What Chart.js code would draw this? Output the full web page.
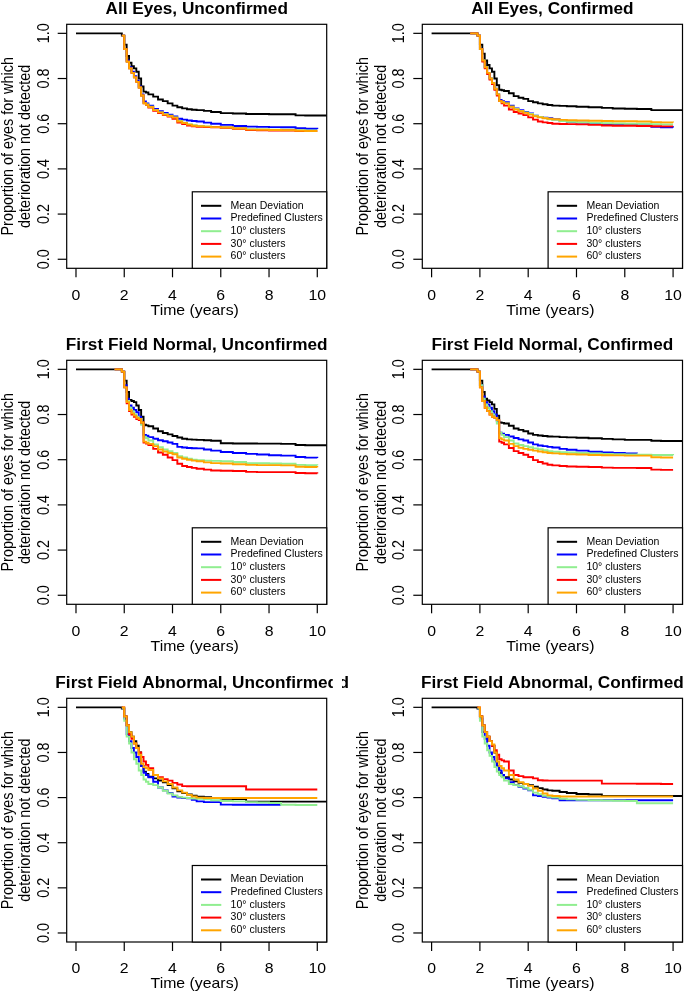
<!DOCTYPE html>
<html>
<head>
<meta charset="utf-8">
<script src="https://cdn.jsdelivr.net/npm/chart.js@4.4.1/dist/chart.umd.min.js"></script>
<style>
  body { margin: 0; background: #fff; }
  #wrap { position: relative; width: 685px; height: 994px; overflow: hidden; }
  #wrap canvas { position: absolute; }
</style>
</head>
<body>
<div id="wrap"></div>
<script>
// Kaplan-Meier style curves, shared time grid (years)
const TIMES = [0, 1.6, 1.9, 2.0, 2.1, 2.2, 2.3, 2.4, 2.5, 2.6, 2.7, 2.8,
  2.9, 3.0, 3.2, 3.4, 3.6, 3.8, 4.0, 4.2, 4.4, 4.6, 4.8, 5.0,
  5.3, 5.6, 6.0, 6.5, 7.05, 7.5, 8.0, 8.5, 9.1, 9.5, 10.0, 10.4];

const X_TICKS = [0, 2, 4, 6, 8, 10];
const Y_TICKS = [0, 0.2, 0.4, 0.6, 0.8, 1.0];

const SERIES_NAMES = ['Mean Deviation', 'Predefined Clusters', '10\u00b0 clusters', '30\u00b0 clusters', '60\u00b0 clusters'];
const SERIES_COLORS = ['#000000', '#0000ff', '#90ee90', '#ff0000', '#ffa500'];

// All Eyes, Unconfirmed
const allUncMD  = [1, 1, 0.99, 0.95, 0.90, 0.87, 0.855, 0.845, 0.83, 0.80, 0.765, 0.742, 0.738, 0.73, 0.72, 0.707, 0.70, 0.69, 0.68, 0.673, 0.668, 0.664, 0.662, 0.66, 0.657, 0.652, 0.647, 0.645, 0.643, 0.643, 0.642, 0.642, 0.637, 0.636, 0.636, 0.636];
const allUncPre = [null, null, 0.99, 0.93, 0.88, 0.85, 0.83, 0.81, 0.79, 0.765, 0.73, 0.698, 0.69, 0.68, 0.665, 0.655, 0.648, 0.64, 0.632, 0.622, 0.618, 0.614, 0.612, 0.61, 0.605, 0.60, 0.595, 0.59, 0.587, 0.586, 0.585, 0.584, 0.58, 0.578, 0.577, null];
const allUnc10  = [null, null, 0.99, 0.93, 0.875, 0.845, 0.825, 0.805, 0.785, 0.76, 0.725, 0.692, 0.685, 0.675, 0.66, 0.65, 0.642, 0.635, 0.628, 0.612, 0.605, 0.598, 0.593, 0.59, 0.588, 0.586, 0.584, 0.58, 0.576, 0.575, 0.574, 0.573, 0.571, 0.57, 0.57, null];
const allUnc30  = [null, null, 0.99, 0.93, 0.875, 0.845, 0.825, 0.805, 0.785, 0.76, 0.725, 0.69, 0.683, 0.672, 0.657, 0.647, 0.638, 0.632, 0.622, 0.605, 0.598, 0.592, 0.588, 0.586, 0.585, 0.584, 0.582, 0.578, 0.572, 0.571, 0.57, 0.57, 0.568, 0.567, 0.567, null];
const allUnc60  = [null, null, 0.99, 0.93, 0.875, 0.845, 0.825, 0.805, 0.785, 0.76, 0.725, 0.69, 0.684, 0.674, 0.66, 0.65, 0.64, 0.634, 0.627, 0.61, 0.603, 0.596, 0.591, 0.589, 0.587, 0.585, 0.583, 0.579, 0.574, 0.573, 0.572, 0.571, 0.569, 0.568, 0.568, null];

// All Eyes, Confirmed
const allConfMD  = [1, 1, 0.99, 0.95, 0.91, 0.88, 0.86, 0.845, 0.83, 0.80, 0.77, 0.75, 0.748, 0.745, 0.735, 0.722, 0.715, 0.71, 0.70, 0.695, 0.69, 0.686, 0.683, 0.68, 0.679, 0.677, 0.675, 0.673, 0.67, 0.667, 0.666, 0.665, 0.66, 0.66, 0.66, 0.66];
const allConfPre = [null, 1, 0.99, 0.93, 0.88, 0.85, 0.825, 0.80, 0.78, 0.755, 0.73, 0.705, 0.70, 0.695, 0.68, 0.668, 0.66, 0.652, 0.645, 0.635, 0.63, 0.627, 0.624, 0.62, 0.613, 0.608, 0.605, 0.60, 0.596, 0.595, 0.595, 0.593, 0.586, 0.584, 0.583, null];
const allConf10  = [null, 1, 0.99, 0.93, 0.88, 0.85, 0.825, 0.80, 0.78, 0.755, 0.73, 0.70, 0.695, 0.69, 0.675, 0.665, 0.656, 0.65, 0.643, 0.635, 0.63, 0.625, 0.62, 0.617, 0.612, 0.608, 0.606, 0.604, 0.602, 0.601, 0.60, 0.60, 0.598, 0.597, 0.597, null];
const allConf30  = [null, 1, 0.99, 0.93, 0.875, 0.845, 0.82, 0.795, 0.775, 0.75, 0.725, 0.70, 0.69, 0.68, 0.663, 0.652, 0.645, 0.638, 0.628, 0.618, 0.61, 0.606, 0.603, 0.60, 0.599, 0.598, 0.597, 0.595, 0.592, 0.591, 0.591, 0.59, 0.589, 0.588, 0.588, null];
const allConf60  = [null, 1, 0.99, 0.93, 0.88, 0.85, 0.825, 0.80, 0.78, 0.755, 0.73, 0.70, 0.695, 0.69, 0.675, 0.663, 0.655, 0.648, 0.64, 0.633, 0.628, 0.624, 0.622, 0.62, 0.617, 0.615, 0.614, 0.613, 0.612, 0.611, 0.611, 0.61, 0.607, 0.606, 0.605, null];

// First Field Normal, Unconfirmed
const normUncMD  = [1, 1, 0.99, 0.95, 0.90, 0.865, 0.86, 0.855, 0.84, 0.82, 0.79, 0.755, 0.752, 0.748, 0.738, 0.726, 0.718, 0.712, 0.705, 0.698, 0.693, 0.69, 0.689, 0.688, 0.686, 0.684, 0.673, 0.672, 0.672, 0.671, 0.671, 0.67, 0.665, 0.664, 0.664, 0.664];
const normUncPre = [null, 1, 0.99, 0.93, 0.87, 0.84, 0.83, 0.82, 0.81, 0.79, 0.76, 0.71, 0.706, 0.70, 0.693, 0.686, 0.682, 0.676, 0.67, 0.657, 0.654, 0.652, 0.651, 0.65, 0.645, 0.64, 0.634, 0.63, 0.626, 0.623, 0.62, 0.618, 0.612, 0.609, 0.608, null];
const normUnc10  = [null, 1, 0.99, 0.92, 0.86, 0.83, 0.815, 0.80, 0.79, 0.78, 0.755, 0.702, 0.695, 0.685, 0.668, 0.655, 0.645, 0.638, 0.63, 0.615, 0.61, 0.605, 0.60, 0.598, 0.596, 0.595, 0.593, 0.59, 0.585, 0.584, 0.583, 0.582, 0.577, 0.576, 0.575, null];
const normUnc30  = [null, 1, 0.99, 0.92, 0.85, 0.815, 0.80, 0.79, 0.78, 0.775, 0.765, 0.676, 0.672, 0.665, 0.648, 0.632, 0.622, 0.61, 0.598, 0.582, 0.572, 0.568, 0.564, 0.56, 0.556, 0.552, 0.551, 0.55, 0.546, 0.545, 0.545, 0.545, 0.541, 0.54, 0.539, null];
const normUnc60  = [null, 1, 0.99, 0.92, 0.855, 0.82, 0.805, 0.795, 0.785, 0.78, 0.765, 0.68, 0.675, 0.67, 0.66, 0.645, 0.636, 0.63, 0.624, 0.61, 0.604, 0.60, 0.596, 0.593, 0.588, 0.585, 0.583, 0.58, 0.577, 0.576, 0.576, 0.575, 0.569, 0.568, 0.567, null];

// First Field Normal, Confirmed
const normConfMD  = [1, 1, 0.99, 0.95, 0.90, 0.87, 0.862, 0.855, 0.845, 0.825, 0.795, 0.765, 0.763, 0.76, 0.75, 0.738, 0.732, 0.726, 0.716, 0.71, 0.707, 0.705, 0.703, 0.702, 0.70, 0.699, 0.697, 0.695, 0.692, 0.69, 0.688, 0.688, 0.684, 0.683, 0.683, 0.683];
const normConfPre = [null, 1, 0.99, 0.93, 0.88, 0.855, 0.845, 0.83, 0.815, 0.80, 0.77, 0.72, 0.715, 0.71, 0.703, 0.696, 0.69, 0.685, 0.676, 0.668, 0.663, 0.66, 0.657, 0.654, 0.648, 0.644, 0.64, 0.635, 0.632, 0.63, 0.628, 0.627, null, null, null, null];
const normConf10  = [null, 1, 0.99, 0.93, 0.87, 0.845, 0.83, 0.815, 0.80, 0.785, 0.76, 0.72, 0.71, 0.70, 0.685, 0.672, 0.665, 0.66, 0.655, 0.65, 0.646, 0.642, 0.638, 0.635, 0.633, 0.632, 0.63, 0.628, 0.625, 0.624, 0.623, 0.622, 0.621, 0.621, 0.62, null];
const normConf30  = [null, 1, 0.99, 0.92, 0.86, 0.83, 0.815, 0.80, 0.79, 0.785, 0.775, 0.68, 0.675, 0.668, 0.652, 0.638, 0.63, 0.622, 0.612, 0.598, 0.59, 0.583, 0.578, 0.575, 0.572, 0.57, 0.569, 0.568, 0.565, 0.564, 0.564, 0.563, 0.556, 0.555, 0.555, null];
const normConf60  = [null, 1, 0.99, 0.92, 0.86, 0.83, 0.815, 0.80, 0.79, 0.785, 0.775, 0.695, 0.69, 0.685, 0.67, 0.66, 0.653, 0.648, 0.644, 0.64, 0.636, 0.633, 0.63, 0.628, 0.626, 0.624, 0.623, 0.621, 0.62, 0.619, 0.618, 0.618, 0.611, 0.61, 0.61, null];

// First Field Abnormal, Unconfirmed
const abnUncMD  = [1, 1, 0.995, 0.96, 0.92, 0.89, 0.87, 0.85, 0.83, 0.80, 0.74, 0.715, 0.705, 0.693, 0.685, 0.676, 0.668, 0.655, 0.641, 0.628, 0.62, 0.614, 0.608, 0.604, 0.602, 0.598, 0.595, 0.594, 0.582, 0.582, 0.582, 0.582, 0.582, 0.582, 0.582, 0.582];
const abnUncPre = [null, null, 0.995, 0.95, 0.88, 0.85, 0.82, 0.80, 0.78, 0.76, 0.74, 0.71, 0.70, 0.69, 0.67, 0.645, 0.632, 0.62, 0.605, 0.60, 0.598, 0.597, 0.59, 0.583, 0.58, 0.58, 0.569, 0.568, 0.568, 0.568, 0.568, 0.568, null, null, null, null];
const abnUnc10  = [null, null, 0.995, 0.94, 0.87, 0.84, 0.80, 0.77, 0.75, 0.72, 0.70, 0.68, 0.67, 0.66, 0.655, 0.645, 0.63, 0.618, 0.61, 0.603, 0.60, 0.598, 0.596, 0.595, 0.592, 0.588, 0.585, 0.583, 0.58, 0.578, 0.576, 0.568, 0.567, 0.567, 0.567, null];
const abnUnc30  = [null, null, 1, 0.96, 0.92, 0.88, 0.86, 0.84, 0.82, 0.80, 0.78, 0.76, 0.745, 0.73, 0.70, 0.69, 0.682, 0.675, 0.665, 0.658, 0.651, 0.65, 0.65, 0.65, 0.65, 0.65, 0.65, 0.65, 0.636, 0.636, 0.636, 0.636, 0.636, 0.636, 0.636, null];
const abnUnc60  = [null, null, 1, 0.96, 0.92, 0.89, 0.87, 0.84, 0.82, 0.79, 0.75, 0.735, 0.73, 0.722, 0.70, 0.685, 0.672, 0.66, 0.645, 0.632, 0.622, 0.612, 0.605, 0.60, 0.598, 0.598, 0.598, 0.598, 0.598, 0.598, 0.598, 0.598, 0.598, 0.598, 0.598, null];

// First Field Abnormal, Confirmed
const abnConfMD  = [1, 1, 0.995, 0.96, 0.92, 0.89, 0.87, 0.85, 0.83, 0.80, 0.74, 0.71, 0.695, 0.69, 0.68, 0.672, 0.665, 0.66, 0.655, 0.648, 0.642, 0.636, 0.632, 0.63, 0.625, 0.62, 0.616, 0.614, 0.607, 0.607, 0.607, 0.607, 0.607, 0.607, 0.607, 0.607];
const abnConfPre = [null, null, 0.995, 0.95, 0.89, 0.86, 0.83, 0.80, 0.78, 0.76, 0.74, 0.72, 0.70, 0.685, 0.668, 0.655, 0.648, 0.64, 0.632, 0.61, 0.607, 0.604, 0.60, 0.597, 0.588, 0.588, 0.588, 0.588, 0.588, 0.588, 0.588, 0.588, 0.588, 0.588, 0.588, null];
const abnConf10  = [null, null, 0.995, 0.94, 0.87, 0.84, 0.81, 0.785, 0.76, 0.735, 0.715, 0.70, 0.69, 0.675, 0.66, 0.655, 0.65, 0.643, 0.635, 0.622, 0.615, 0.608, 0.603, 0.60, 0.595, 0.592, 0.59, 0.588, 0.587, 0.586, 0.585, 0.575, 0.575, 0.575, 0.575, null];
const abnConf30  = [null, null, 1, 0.96, 0.92, 0.89, 0.87, 0.85, 0.83, 0.81, 0.79, 0.77, 0.765, 0.76, 0.72, 0.70, 0.695, 0.69, 0.69, 0.685, 0.677, 0.676, 0.675, 0.675, 0.675, 0.675, 0.675, 0.675, 0.662, 0.662, 0.662, 0.661, 0.661, 0.66, 0.66, null];
const abnConf60  = [null, null, 1, 0.96, 0.92, 0.89, 0.87, 0.85, 0.835, 0.80, 0.76, 0.74, 0.73, 0.72, 0.70, 0.68, 0.668, 0.66, 0.652, 0.64, 0.63, 0.618, 0.61, 0.607, 0.605, 0.605, 0.605, 0.605, 0.605, 0.605, 0.605, 0.605, 0.605, 0.605, 0.605, null];

// panel placement: canvas box and plot region inside it
const COLS = [{x: 0, w: 342, plotL: 66.7, plotR: 326.7}, {x: 342, w: 343, plotL: 80.3, plotR: 340.5}];
const ROWS = [{y: 0, h: 331, plotT: 24.3, plotB: 268.3}, {y: 331, h: 331, plotT: 29.3, plotB: 273.3}, {y: 662, h: 332, plotT: 36.3, plotB: 280}];

const panels = [
  {title: 'All Eyes, Unconfirmed', row: 0, col: 0, series: [allUncMD, allUncPre, allUnc10, allUnc30, allUnc60]},
  {title: 'All Eyes, Confirmed', row: 0, col: 1, series: [allConfMD, allConfPre, allConf10, allConf30, allConf60]},
  {title: 'First Field Normal, Unconfirmed', row: 1, col: 0, series: [normUncMD, normUncPre, normUnc10, normUnc30, normUnc60]},
  {title: 'First Field Normal, Confirmed', row: 1, col: 1, series: [normConfMD, normConfPre, normConf10, normConf30, normConf60]},
  {title: 'First Field Abnormal, Unconfirmed', row: 2, col: 0, width: 333, series: [abnUncMD, abnUncPre, abnUnc10, abnUnc30, abnUnc60]},
  {title: 'First Field Abnormal, Confirmed', row: 2, col: 1, stray: 'First Field Abnormal, Unconfirmed', series: [abnConfMD, abnConfPre, abnConf10, abnConf30, abnConf60]}
];

const FONT = '"Liberation Sans", Arial, sans-serif';
const AXIS_FONT = '14.4px ' + FONT;
const STRETCH = 1.1;  // axis text in the picture is a little wider than tall

function wideText(ctx, text, x, y, angle) {
  ctx.save();
  ctx.translate(x, y);
  ctx.scale(STRETCH, 1);
  if (angle) ctx.rotate(angle);
  ctx.fillText(text, 0, 0);
  ctx.restore();
}

const rPlot = {
  id: 'rPlot',
  afterDraw(chart, args, opts) {
    const ctx = chart.ctx;
    const ca = chart.chartArea;
    const xs = chart.scales.x, ys = chart.scales.y;
    const midX = (ca.left + ca.right) / 2;
    const midY = (ca.top + ca.bottom) / 2;
    ctx.save();
    ctx.strokeStyle = '#000';
    ctx.fillStyle = '#000';
    ctx.lineWidth = 1.2;
    ctx.strokeRect(ca.left, ca.top, ca.width, ca.height);

    // x axis
    ctx.font = AXIS_FONT;
    ctx.textAlign = 'center';
    ctx.textBaseline = 'middle';
    X_TICKS.forEach(v => {
      const px = xs.getPixelForValue(v);
      ctx.beginPath();
      ctx.moveTo(px, ca.bottom);
      ctx.lineTo(px, ca.bottom + 9);
      ctx.stroke();
      wideText(ctx, String(v), px, ca.bottom + 27.5);
    });
    wideText(ctx, 'Time (years)', midX - 2, ca.bottom + 42.5);

    // y axis
    Y_TICKS.forEach(v => {
      const py = ys.getPixelForValue(v);
      ctx.beginPath();
      ctx.moveTo(ca.left - 9, py);
      ctx.lineTo(ca.left, py);
      ctx.stroke();
      wideText(ctx, v.toFixed(1), ca.left - 22.5, py, -Math.PI / 2);
    });
    wideText(ctx, 'Proportion of eyes for which', ca.left - 58.4, midY, -Math.PI / 2);
    wideText(ctx, 'deterioration not detected', ca.left - 40.7, midY, -Math.PI / 2);

    // title
    ctx.font = 'bold 17.2px ' + FONT;
    ctx.textBaseline = 'alphabetic';
    ctx.fillText(opts.title, midX, ca.top - 10);
    if (opts.stray) {
      ctx.textAlign = 'right';
      ctx.fillText(opts.stray, 7, ca.top - 10);
    }

    // legend, bottom right
    const lw = 134.4, lh = 76.5;
    const lx = ca.right - lw, ly = ca.bottom - lh;
    ctx.fillStyle = '#fff';
    ctx.fillRect(lx, ly, lw, lh);
    ctx.strokeStyle = '#000';
    ctx.lineWidth = 1.2;
    ctx.strokeRect(lx, ly, lw, lh);
    ctx.font = '10.5px ' + FONT;
    ctx.textAlign = 'left';
    ctx.textBaseline = 'middle';
    SERIES_NAMES.forEach((name, i) => {
      const yy = ly + 14 + i * 12.7;
      ctx.strokeStyle = SERIES_COLORS[i];
      ctx.lineWidth = 2;
      ctx.beginPath();
      ctx.moveTo(lx + 8.7, yy);
      ctx.lineTo(lx + 29, yy);
      ctx.stroke();
      ctx.fillStyle = '#000';
      ctx.fillText(name, lx + 38.3, yy);
    });
    ctx.restore();
  }
};

const wrap = document.getElementById('wrap');

panels.forEach(p => {
  const col = COLS[p.col], row = ROWS[p.row];
  const w = p.width || col.w, h = row.h;
  const canvas = document.createElement('canvas');
  canvas.width = w;
  canvas.height = h;
  canvas.style.left = col.x + 'px';
  canvas.style.top = row.y + 'px';
  canvas.style.width = w + 'px';
  canvas.style.height = h + 'px';
  wrap.appendChild(canvas);

  const datasets = p.series.map((vals, i) => ({
    label: SERIES_NAMES[i],
    data: TIMES.map((t, k) => ({x: t, y: vals[k]})),
    borderColor: SERIES_COLORS[i],
    borderWidth: 1.9,
    stepped: 'before',
    pointRadius: 0,
    fill: false,
    spanGaps: false,
    order: 5 - i
  }));

  new Chart(canvas, {
    type: 'line',
    data: {datasets: datasets},
    options: {
      responsive: false,
      animation: false,
      devicePixelRatio: 1,
      layout: {
        padding: {left: col.plotL, right: w - col.plotR, top: row.plotT, bottom: h - row.plotB}
      },
      scales: {
        x: {type: 'linear', display: false, min: -0.385, max: 10.39},
        y: {type: 'linear', display: false, min: -0.04, max: 1.04}
      },
      plugins: {
        legend: {display: false},
        tooltip: {enabled: false},
        rPlot: {title: p.title, stray: p.stray}
      }
    },
    plugins: [rPlot]
  });
});
</script>
</body>
</html>
